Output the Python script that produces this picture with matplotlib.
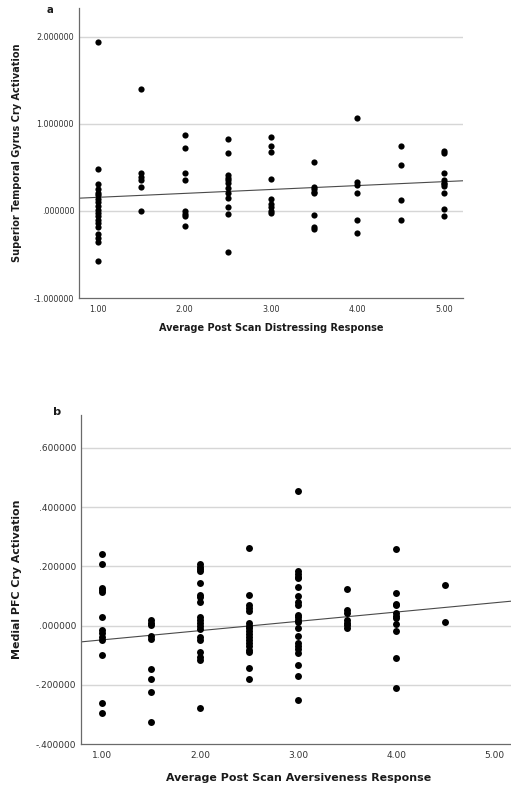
import numpy as np
import matplotlib
matplotlib.use("Agg")
import matplotlib.pyplot as plt

# panel a: superior temporal gyrus vs. distressing rating
stg_x = [1.0] * 19 + [1.5] * 6 + [2.0] * 8 + [2.5] * 12 + [3.0] * 9 + [3.5] * 8 + [4.0] * 6 + [4.5] * 4 + [5.0] * 10
stg_y = [1.94, 0.48, 0.31, 0.25, 0.21, 0.18, 0.14, 0.10, 0.06, 0.015, -0.02, -0.06, -0.10, -0.14, -0.19, -0.26, -0.31, -0.36, -0.58,
         1.40, 0.43, 0.39, 0.35, 0.27, 0.00,
         0.87, 0.72, 0.44, 0.35, 0.00, -0.03, -0.06, -0.17,
         0.83, 0.67, 0.41, 0.38, 0.35, 0.32, 0.26, 0.20, 0.15, 0.04, -0.04, -0.47,
         0.85, 0.74, 0.68, 0.37, 0.14, 0.08, 0.04, 0.00, -0.02,
         0.56, 0.28, 0.25, 0.22, 0.20, -0.05, -0.19, -0.21,
         1.07, 0.33, 0.30, 0.21, -0.10, -0.25,
         0.74, 0.53, 0.13, -0.10,
         0.69, 0.67, 0.44, 0.35, 0.32, 0.29, 0.20, 0.02, -0.06, 0.31]
stg_fit = (0.111, 0.045)  # intercept, slope

# panel b: medial PFC vs. aversiveness rating
mpfc_x = [1.0] * 13 + [1.5] * 9 + [2.0] * 19 + [2.5] * 18 + [3.0] * 22 + [3.5] * 7 + [4.0] * 11 + [4.5] * 2
mpfc_y = [0.243, 0.209, 0.127, 0.119, 0.112, 0.029, -0.015, -0.025, -0.038, -0.050, -0.100, -0.262, -0.295,
          0.018, 0.009, 0.001, -0.036, -0.047, -0.145, -0.179, -0.224, -0.325,
          0.207, 0.199, 0.190, 0.183, 0.144, 0.102, 0.095, 0.078, 0.029, 0.018, 0.008, 0.000, -0.010, -0.038, -0.050,
          -0.089, -0.105, -0.115, -0.280,
          0.263, 0.103, 0.069, 0.060, 0.048, 0.010, 0.000, -0.008, -0.019, -0.030, -0.040, -0.050, -0.060, -0.070,
          -0.081, -0.090, -0.143, -0.181,
          0.456, 0.185, 0.175, 0.164, 0.159, 0.131, 0.101, 0.079, 0.071, 0.035, 0.028, 0.020, 0.012, -0.009, -0.036,
          -0.060, -0.068, -0.079, -0.092, -0.134, -0.169, -0.253,
          0.124, 0.052, 0.044, 0.020, 0.010, 0.002, -0.007,
          0.259, 0.111, 0.074, 0.071, 0.042, 0.032, 0.025, 0.004, -0.019, -0.110, -0.212,
          0.138, 0.013]
mpfc_fit = (-0.0796, 0.0313)

x_ticks = [1, 2, 3, 4, 5]
x_ticklabels = ["1.00", "2.00", "3.00", "4.00", "5.00"]
stg_ticks = [-1, 0, 1, 2]
stg_ticklabels = ["-1.000000", ".000000", "1.000000", "2.000000"]
mpfc_ticks = [-0.4, -0.2, 0.0, 0.2, 0.4, 0.6]
mpfc_ticklabels = ["-.400000", "-.200000", ".000000", ".200000", ".400000", ".600000"]


def spss_scatter(ax, x, y, fit, yticks, yticklabels, ylim, xlabel, ylabel, fs, dot):
    ax.set_xlim(0.78, 5.22)
    ax.set_ylim(*ylim)
    for t in yticks[1:]:
        ax.axhline(t, color="#d6d6d6", lw=1.0, zorder=0)
    ax.scatter(x, y, s=dot, color="black", linewidths=0, zorder=3)
    xx = np.array(ax.get_xlim())
    ax.plot(xx, fit[0] + fit[1] * xx, color="#4a4a4a", lw=0.8, zorder=2)

    ax.set_xticks(x_ticks)
    ax.set_xticklabels(x_ticklabels)
    ax.set_yticks(yticks)
    ax.set_yticklabels(yticklabels)
    ax.tick_params(length=0, labelsize=fs, colors="#333333")
    ax.tick_params(axis="x", pad=5)
    ax.tick_params(axis="y", pad=3.5)
    for side in ["top", "right"]:
        ax.spines[side].set_visible(False)
    for side in ["left", "bottom"]:
        ax.spines[side].set_color("#6a6a6a")
        ax.spines[side].set_linewidth(0.9)

    ax.set_xlabel(xlabel, fontsize=fs * 1.22, fontweight="bold", color="#1a1a1a")
    ax.set_ylabel(ylabel, fontsize=fs * 1.22, fontweight="bold", color="#1a1a1a")


fig = plt.figure(figsize=(5.11, 7.89), dpi=100)

ax1 = fig.add_axes([0.1546, 0.6223, 0.7515, 0.3676])
spss_scatter(ax1, stg_x, stg_y, stg_fit, stg_ticks, stg_ticklabels, (-1.0, 2.33),
             "Average Post Scan Distressing Response", "Superior Temporal Gyrus Cry Activation", 5.8, 20)
ax1.xaxis.set_label_coords(0.5, -0.086)
ax1.yaxis.set_label_coords(-0.148, 0.5)
ax1.text(-0.0755, 0.993, "a", transform=ax1.transAxes, fontsize=7.3,
         fontweight="bold", ha="center", va="center", color="#1a1a1a")

ax2 = fig.add_axes([0.158, 0.057, 0.851, 0.417])
spss_scatter(ax2, mpfc_x, mpfc_y, mpfc_fit, mpfc_ticks, mpfc_ticklabels, (-0.4, 0.711),
             "Average Post Scan Aversiveness Response", "Medial PFC Cry Activation", 6.5, 25)
ax2.xaxis.set_label_coords(0.5, -0.088)
ax2.yaxis.set_label_coords(-0.135, 0.5)
ax2.text(-0.054, 1.009, "b", transform=ax2.transAxes, fontsize=8.2,
         fontweight="bold", ha="center", va="center", color="#1a1a1a")

fig.savefig("out.png", dpi=100)
